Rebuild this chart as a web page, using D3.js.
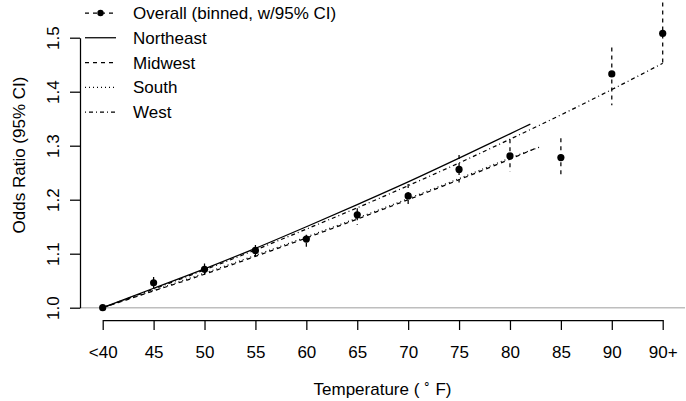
<!DOCTYPE html>
<html><head><meta charset="utf-8">
<script src="https://cdn.jsdelivr.net/npm/d3@7"></script>
<style>
html,body{margin:0;padding:0;background:#fff;}
svg{display:block;font-family:"Liberation Sans",Arial,sans-serif;}
</style></head>
<body>
<svg id="chart" width="686" height="401"></svg>
<script>
// ---- data ----
const tickTemps = [40,45,50,55,60,65,70,75,80,85,90,95];
const tickLabels = ["<40","45","50","55","60","65","70","75","80","85","90","90+"];
const yTicks = [1.0,1.1,1.2,1.3,1.4,1.5];

const binTemps = [40,45,50,55,60,65,70,75,80,85,90,95];
const binOR    = [1.000,1.046,1.071,1.106,1.127,1.172,1.207,1.256,1.281,1.278,1.433,1.508];
const binLo    = [1.000,1.036,1.061,1.092,1.112,1.153,1.186,1.232,1.252,1.243,1.375,1.452];
const binHi    = [1.000,1.057,1.082,1.116,1.135,1.184,1.229,1.283,1.312,1.314,1.482,1.580];

const neTemps = [40,45,50,55,60,65,70,75,80,82];
const neOR    = [1.000,1.036,1.072,1.110,1.150,1.191,1.233,1.277,1.322,1.340];
const mwTemps = [40,45,50,55,60,65,70,75,80,82.5];
const mwOR    = [1.000,1.031,1.062,1.095,1.129,1.164,1.200,1.237,1.275,1.295];
const soTemps = [40,45,50,55,60,65,70,75,80,83];
const soOR    = [1.000,1.032,1.064,1.097,1.131,1.166,1.202,1.239,1.277,1.298];
const weTemps = [40,45,50,55,60,65,70,75,80,85,90,95];
const weOR    = [1.000,1.0345,1.070,1.107,1.1455,1.185,1.226,1.268,1.312,1.357,1.404,1.4526];

// ---- layout ----
const svg = d3.select("#chart");
const x = d3.scaleLinear().domain([40,95]).range([102.7,662.7]);
const y = d3.scaleLinear().domain([1.0,1.5]).range([307.7,37.7]);
const plotL = 80, plotR = 685, plotT = -12, plotB = 320;
const fs = 17;
const lw = 1.25;

// clip for plot region
svg.append("defs").append("clipPath").attr("id","clip")
  .append("rect").attr("x",plotL).attr("y",plotT).attr("width",plotR-plotL).attr("height",plotB-plotT);

const g = svg.append("g").attr("clip-path","url(#clip)");

// reference line at 1
g.append("line").attr("x1",plotL).attr("x2",plotR)
  .attr("y1",y(1)).attr("y2",y(1))
  .attr("stroke","#bebebe").attr("stroke-width",1.5);

const line = d3.line().x(d=>x(d[0])).y(d=>y(d[1])).curve(d3.curveMonotoneX);
const series = [
  {t:neTemps, v:neOR, dash:null},
  {t:mwTemps, v:mwOR, dash:"4,4"},
  {t:soTemps, v:soOR, dash:"1,3"},
  {t:weTemps, v:weOR, dash:"1,3,4,3"}
];
series.forEach(s=>{
  g.append("path").datum(s.t.map((t,i)=>[t,s.v[i]]))
   .attr("d",line).attr("fill","none").attr("stroke","#000")
   .attr("stroke-width",lw).attr("stroke-dasharray",s.dash);
});

// error bars
binTemps.forEach((t,i)=>{
  if(binHi[i]-binLo[i] <= 0) return;
  g.append("line").attr("x1",x(t)).attr("x2",x(t))
   .attr("y1",y(binHi[i])).attr("y2",y(binLo[i]))
   .attr("stroke","#000").attr("stroke-width",lw).attr("stroke-dasharray","4,4");
});
// points
g.selectAll("circle.pt").data(binTemps.map((t,i)=>[t,binOR[i]])).enter()
  .append("circle").attr("cx",d=>x(d[0])).attr("cy",d=>y(d[1])).attr("r",3.6).attr("fill","#000");

// ---- axes ----
const yAxis = svg.append("g").attr("transform",`translate(${plotL},0)`)
  .call(d3.axisLeft(y).tickValues(yTicks).tickSize(10).tickSizeOuter(0).tickFormat(d3.format(".1f")));
yAxis.select(".domain").attr("stroke-width",lw);
yAxis.selectAll(".tick line").attr("stroke-width",lw);
yAxis.selectAll(".tick text").attr("font-size",fs).attr("font-family","Liberation Sans, Arial, sans-serif")
  .attr("fill","#000")
  .attr("transform","rotate(-90)").attr("x",0).attr("dy",0)
  .attr("y",-21).attr("text-anchor","middle")
  .each(function(d){ d3.select(this).attr("transform",`rotate(-90)`); });

const xAxis = svg.append("g").attr("transform",`translate(0,${plotB})`)
  .call(d3.axisBottom(x).tickValues(tickTemps).tickSize(10).tickSizeOuter(0)
    .tickFormat((d,i)=>tickLabels[i]));
xAxis.select(".domain").attr("stroke-width",lw);
xAxis.selectAll(".tick line").attr("stroke-width",lw);
xAxis.selectAll(".tick text").attr("font-size",fs).attr("font-family","Liberation Sans, Arial, sans-serif")
  .attr("fill","#000").attr("y",38).attr("dy",0);

// titles
const xt = svg.append("text").attr("x",(plotL+plotR)/2).attr("y",395)
  .attr("text-anchor","middle").attr("font-size",fs);
xt.append("tspan").text("Temperature (");
xt.append("tspan").attr("font-size",12).attr("dy",-7).text(" \u2218");
xt.append("tspan").attr("dy",7).text(" F)");

svg.append("text").attr("transform","translate(25,155) rotate(-90)")
  .attr("text-anchor","middle").attr("font-size",fs).text("Odds Ratio (95% CI)");

// ---- legend ----
const legItems = [
  {label:"Overall (binned, w/95% CI)", dash:"4,4", pt:true},
  {label:"Northeast", dash:null},
  {label:"Midwest", dash:"4,4"},
  {label:"South", dash:"1,3"},
  {label:"West", dash:"1,3,4,3"}
];
const legY = d3.scalePoint().domain(d3.range(legItems.length)).range([13,112]);
legItems.forEach((it,i)=>{
  const yy = legY(i);
  svg.append("line").attr("x1",85).attr("x2",116).attr("y1",yy).attr("y2",yy)
    .attr("stroke","#000").attr("stroke-width",lw).attr("stroke-dasharray",it.dash);
  if(it.pt) svg.append("circle").attr("cx",100.5).attr("cy",yy).attr("r",3.2).attr("fill","#000");
  svg.append("text").attr("x",133).attr("y",yy).attr("dy","0.36em").attr("font-size",fs).text(it.label);
});
</script>
</body></html>
